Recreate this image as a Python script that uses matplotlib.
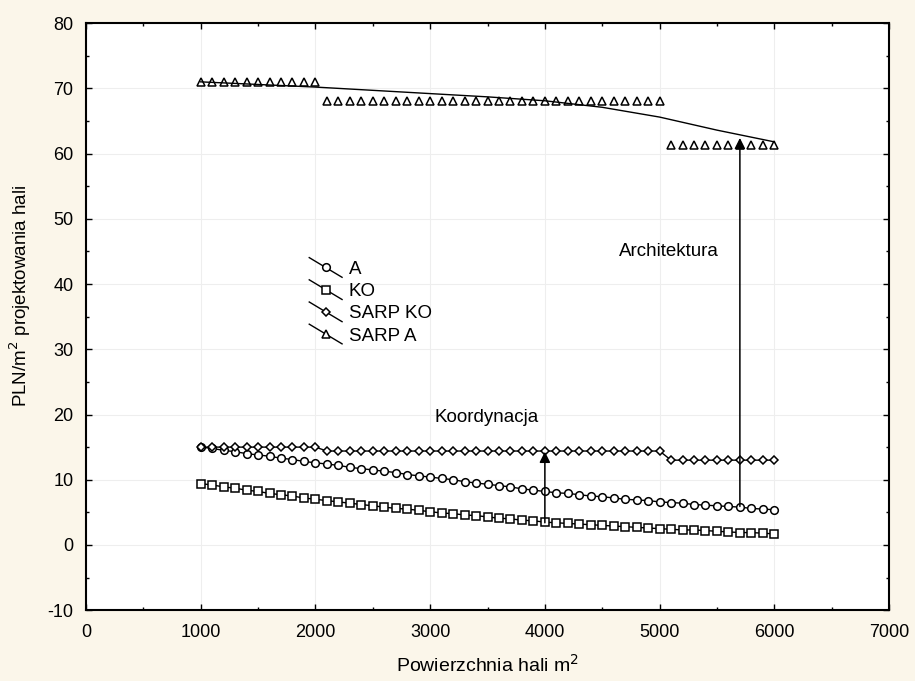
import matplotlib
matplotlib.use('Agg')
import matplotlib.pyplot as plt
from matplotlib.lines import Line2D
from matplotlib.legend_handler import HandlerLine2D

plt.rcParams['font.family'] = ['Liberation Sans', 'DejaVu Sans']
plt.rcParams['axes.unicode_minus'] = False

# hall area [m2], one point every 100 m2
area = [1000, 1100, 1200, 1300, 1400, 1500, 1600, 1700, 1800, 1900, 2000,
        2100, 2200, 2300, 2400, 2500, 2600, 2700, 2800, 2900, 3000,
        3100, 3200, 3300, 3400, 3500, 3600, 3700, 3800, 3900, 4000,
        4100, 4200, 4300, 4400, 4500, 4600, 4700, 4800, 4900, 5000,
        5100, 5200, 5300, 5400, 5500, 5600, 5700, 5800, 5900, 6000]

a_vals = [15.0, 14.8, 14.5, 14.3, 14.0, 13.8, 13.6, 13.3, 13.1, 12.8, 12.6,
          12.4, 12.2, 11.9, 11.7, 11.5, 11.3, 11.1, 10.8, 10.6, 10.4,
          10.2, 10.0, 9.7, 9.5, 9.3, 9.1, 8.9, 8.6, 8.4, 8.2,
          8.0, 7.9, 7.7, 7.5, 7.4, 7.2, 7.0, 6.9, 6.8, 6.6,
          6.5, 6.4, 6.2, 6.1, 6.0, 5.9, 5.8, 5.6, 5.5, 5.4]

ko_vals = [9.4, 9.2, 8.9, 8.7, 8.4, 8.2, 7.9, 7.7, 7.5, 7.2, 7.0,
           6.8, 6.6, 6.4, 6.2, 6.0, 5.8, 5.6, 5.5, 5.3, 5.1,
           4.9, 4.8, 4.6, 4.5, 4.3, 4.1, 4.0, 3.8, 3.7, 3.5,
           3.4, 3.3, 3.2, 3.1, 3.0, 2.9, 2.8, 2.7, 2.6, 2.5,
           2.4, 2.3, 2.3, 2.2, 2.1, 2.0, 1.9, 1.9, 1.8, 1.7]

sarp_ko_vals = [15.0, 15.0, 15.0, 15.0, 15.0, 15.0, 15.0, 15.0, 15.0, 15.0, 15.0,
                14.4, 14.4, 14.4, 14.4, 14.4, 14.4, 14.4, 14.4, 14.4, 14.4,
                14.4, 14.4, 14.4, 14.4, 14.4, 14.4, 14.4, 14.4, 14.4, 14.4,
                14.4, 14.4, 14.4, 14.4, 14.4, 14.4, 14.4, 14.4, 14.4, 14.4,
                13.0, 13.0, 13.0, 13.0, 13.0, 13.0, 13.0, 13.0, 13.0, 13.0]

sarp_a_vals = [71.0, 71.0, 71.0, 71.0, 71.0, 71.0, 71.0, 71.0, 71.0, 71.0, 71.0,
               68.0, 68.0, 68.0, 68.0, 68.0, 68.0, 68.0, 68.0, 68.0, 68.0,
               68.0, 68.0, 68.0, 68.0, 68.0, 68.0, 68.0, 68.0, 68.0, 68.0,
               68.0, 68.0, 68.0, 68.0, 68.0, 68.0, 68.0, 68.0, 68.0, 68.0,
               61.3, 61.3, 61.3, 61.3, 61.3, 61.3, 61.3, 61.3, 61.3, 61.3]

# smoothed trend line drawn through SARP A
sarp_a_fit_x = [1000, 1500, 2000, 2500, 3000, 3500, 4000, 4500, 5000, 5500, 6000]
sarp_a_fit_y = [71.0, 70.6, 70.2, 69.7, 69.2, 68.7, 68.1, 67.1, 65.6, 63.6, 61.8]

labels = ['A', 'KO', 'SARP KO', 'SARP A']


class SlantHandler(HandlerLine2D):
    # statistica style legend key: line running down to the right, marker in the middle
    def create_artists(self, legend, orig_handle, xdescent, ydescent,
                       width, height, fontsize, trans):
        artists = super().create_artists(legend, orig_handle, xdescent, ydescent,
                                         width, height, fontsize, trans)
        line = artists[0]
        xd = line.get_xdata()
        yc = (height - ydescent) / 2
        line.set_xdata([xd[0], (xd[0] + xd[-1]) / 2, xd[-1]])
        line.set_ydata([yc + 0.75 * height, yc, yc - 0.75 * height])
        line.set_markevery([1])
        return artists


fig = plt.figure(figsize=(9.15, 6.81), dpi=100, facecolor='#fbf6ea')
ax = fig.add_axes([0.094, 0.104, 0.8776, 0.862])
ax.set_facecolor('white')

mk = dict(color='black', lw=1.0, mfc='white', mec='black', mew=1.1)
h_a, = ax.plot(area, a_vals, marker='o', ms=5.5, **mk)
h_ko, = ax.plot(area, ko_vals, marker='s', ms=6, **mk)
h_sko, = ax.plot(area, sarp_ko_vals, marker='D', ms=4, **mk)
ax.plot(area, sarp_a_vals, marker='^', ms=6, ls='none', mfc='white', mec='black', mew=1.1)
ax.plot(sarp_a_fit_x, sarp_a_fit_y, color='black', lw=1.0)
h_sa, = ax.plot([], [], marker='^', ms=6, **mk)

# arrows
ax.annotate('', xy=(4000, 14.3), xytext=(4000, 3.4),
            arrowprops=dict(arrowstyle='-|>', color='black', lw=1.1,
                            mutation_scale=16, shrinkA=0, shrinkB=0))
ax.annotate('', xy=(5700, 62.4), xytext=(5700, 5.9),
            arrowprops=dict(arrowstyle='-|>', color='black', lw=1.1,
                            mutation_scale=16, shrinkA=0, shrinkB=0))
ax.text(3490, 19.5, 'Koordynacja', ha='center', va='center', fontsize=13.5)
ax.text(5080, 45.0, 'Architektura', ha='center', va='center', fontsize=13.5)

leg = ax.legend([h_a, h_ko, h_sko, h_sa], labels, loc='upper left',
                bbox_to_anchor=(0.278, 0.595), frameon=False, fontsize=13.5,
                handlelength=1.75, handletextpad=0.35, labelspacing=0.27,
                borderaxespad=0, borderpad=0, numpoints=1,
                handler_map={Line2D: SlantHandler()})

ax.set_xlim(0, 7000)
ax.set_ylim(-10, 80)
ax.set_xticks(range(0, 7001, 1000))
ax.set_yticks(range(-10, 81, 10))
ax.set_xticks(range(500, 7000, 1000), minor=True)
ax.set_yticks(range(-5, 80, 10), minor=True)
ax.tick_params(which='both', direction='in', top=True, right=True,
               labelsize=13, width=1.0)
ax.tick_params(which='major', length=4)
ax.tick_params(which='minor', length=2.5)
ax.tick_params(axis='x', pad=10)
ax.tick_params(axis='y', pad=9)
for s in ax.spines.values():
    s.set_linewidth(1.5)
ax.grid(True, color='#eeeeee', lw=0.8)
ax.set_axisbelow(True)

ax.set_xlabel('Powierzchnia hali m$^2$', fontsize=14)
ax.xaxis.set_label_coords(0.5, -0.075)
ax.set_ylabel('PLN/m$^2$ projektowania hali', fontsize=13.5)
ax.yaxis.set_label_coords(-0.066, 0.535)

fig.savefig('out.png', dpi=100, facecolor=fig.get_facecolor())
